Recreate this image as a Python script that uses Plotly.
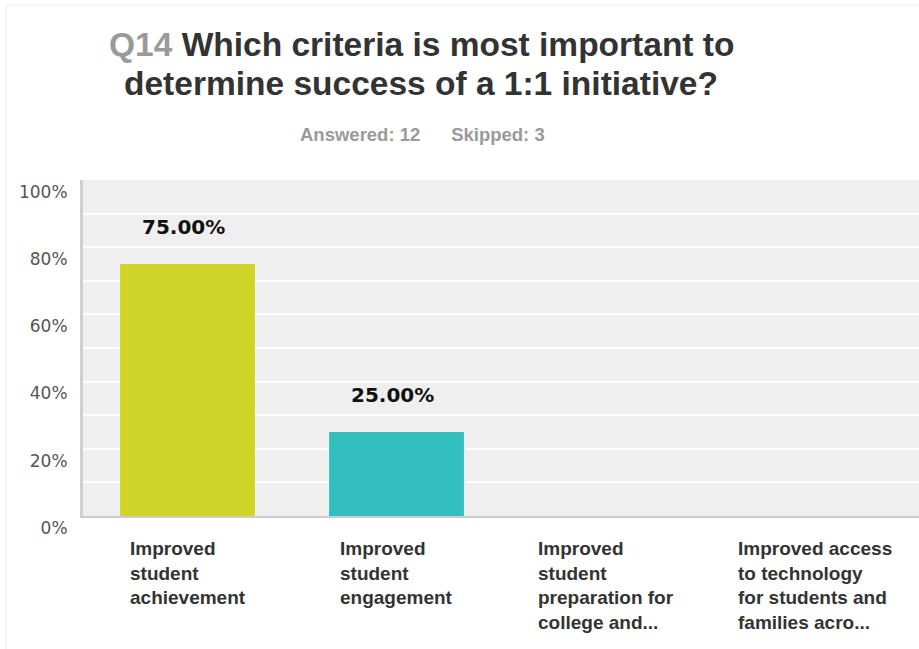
import plotly.graph_objects as go

# Survey question Q14 results
categories = [
    "Improved<br>student<br>achievement",
    "Improved<br>student<br>engagement",
    "Improved<br>student<br>preparation for<br>college and...",
    "Improved access<br>to technology<br>for students and<br>families acro...",
]
percent_values = [75.0, 25.0, 0.0, 0.0]
bar_colors = ["#cfd427", "#33bec0", "#cfd427", "#33bec0"]
y_tick_values = [0, 20, 40, 60, 80, 100]
y_tick_labels = ["0%", "20%", "40%", "60%", "80%", "100%"]
title_lines = [
    "<span style='color:#9a9a9a'>Q14</span> Which criteria is most important to",
    "determine success of a 1:1 initiative?",
]

W, H = 919, 649
M_L, M_R, M_T, M_B = 83, 0, 180, 133
plot_w = W - M_L - M_R
plot_h = H - M_T - M_B


def px_to_paper_x(px):
    return (px - M_L) / plot_w


def px_to_paper_y(py):
    return (H - M_B - py) / plot_h


x_idx = list(range(len(categories)))

fig = go.Figure()
fig.add_trace(go.Bar(
    x=x_idx,
    y=percent_values,
    marker=dict(color=bar_colors, line=dict(width=0)),
    hoverinfo="skip",
))

annotations = []

# Two-line title, each line placed separately
for line, cy in zip(title_lines, [44, 84]):
    annotations.append(dict(
        x=px_to_paper_x(421), y=px_to_paper_y(cy), xref="paper", yref="paper",
        text=line, showarrow=False, xanchor="center", yanchor="middle",
        font=dict(family="Liberation Sans", size=33.5, color="#333333", weight="bold"),
    ))

# Value labels above the non-zero bars
for i, v in enumerate(percent_values):
    if v > 0:
        annotations.append(dict(
            x=i, y=v, xref="x", yref="y",
            text=f"<b>{v:.2f}%</b>",
            showarrow=False, yanchor="bottom", yshift=23, xshift=-4,
            font=dict(family="DejaVu Sans", size=20, color="#111111"),
        ))

# Category labels beneath the axis (block centred, lines left-aligned)
for i, label in enumerate(categories):
    annotations.append(dict(
        x=i, y=px_to_paper_y(536), xref="x", yref="paper",
        text=label, showarrow=False,
        xanchor="center", yanchor="top", align="left",
        font=dict(family="Liberation Sans", size=19, color="#333333", weight="bold"),
    ))

# Answered / skipped summary
annotations.append(dict(
    x=px_to_paper_x(422), y=px_to_paper_y(134), xref="paper", yref="paper",
    text="Answered: 12&nbsp;&nbsp;&nbsp;&nbsp;&nbsp;&nbsp;Skipped: 3",
    showarrow=False, xanchor="center", yanchor="middle",
    font=dict(family="Liberation Sans", size=18.5, color="#9a9a9a", weight="bold"),
))

fig.update_layout(
    width=W, height=H,
    margin=dict(l=M_L, r=M_R, t=M_T, b=M_B, pad=0),
    paper_bgcolor="white",
    plot_bgcolor="#efefef",
    showlegend=False,
    bargap=0.355,
    xaxis=dict(
        range=[-0.5, len(categories) - 0.5],
        showticklabels=False, showgrid=False, zeroline=False,
        showline=True, linecolor="#cccccc", linewidth=2,
        fixedrange=True,
    ),
    yaxis=dict(
        range=[0, 100],
        tickvals=y_tick_values, ticktext=y_tick_labels,
        ticklabelposition="outside bottom",
        ticklabelstandoff=9,
        tickfont=dict(family="DejaVu Sans", size=17, color="#555555"),
        showgrid=True, gridcolor="white", gridwidth=2,
        minor=dict(dtick=10, showgrid=True, gridcolor="white", gridwidth=2),
        zeroline=False,
        showline=True, linecolor="#d0d0d0", linewidth=3,
        ticks="", fixedrange=True,
    ),
    annotations=annotations,
    shapes=[
        dict(type="line", xref="paper", yref="paper",
             x0=px_to_paper_x(6), x1=px_to_paper_x(W), y0=px_to_paper_y(5), y1=px_to_paper_y(5),
             line=dict(color="#eeeeee", width=1)),
        dict(type="line", xref="paper", yref="paper",
             x0=px_to_paper_x(6), x1=px_to_paper_x(6), y0=px_to_paper_y(5), y1=px_to_paper_y(H),
             line=dict(color="#eeeeee", width=1)),
    ],
)

fig.write_html("out.html")
